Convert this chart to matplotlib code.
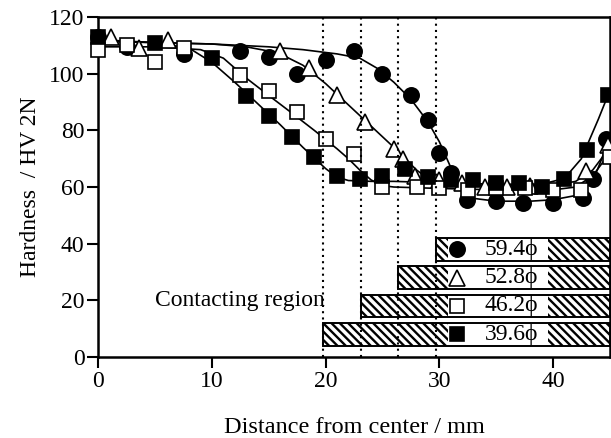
import matplotlib
matplotlib.use("Agg")
import matplotlib.pyplot as plt
from matplotlib.patches import Rectangle

plt.rcParams["font.family"] = ["Liberation Serif", "DejaVu Serif"]
plt.rcParams["hatch.linewidth"] = 1.7

# measured points ------------------------------------------------------------
c594_x = [0, 2.5, 7.5, 12.5, 15, 17.5, 20, 22.5, 25, 27.5, 29, 30, 31, 32.4, 35, 37.4, 40, 42.6, 43.5, 44.7]
c594_y = [113, 109.5, 107, 108, 106, 100, 105, 108, 100, 92.5, 83.5, 72, 65, 55.5, 55, 54.5, 54.5, 56, 63, 77]

t528_x = [1.1, 3.6, 6.1, 16, 18.5, 21, 23.5, 26, 26.8, 27.9, 30, 32, 34, 36, 38, 42.9, 44.8]
t528_y = [113, 109, 112, 108, 102, 92.5, 83, 73.5, 70, 64, 62.5, 61.3, 60, 60, 60.5, 65.5, 75]

s462_x = [0, 2.5, 5, 7.5, 12.5, 15, 17.5, 20, 22.5, 25, 28, 30, 32.5, 35, 37.5, 40, 42.5, 45]
s462_y = [108.5, 110, 104, 109, 99.5, 94, 86.5, 77, 71.5, 60, 60, 59.5, 59, 59.5, 59.5, 59, 59, 70.5]

f396_x = [0, 5, 10, 13, 15, 17, 19, 21, 23, 25, 27, 29, 31, 33, 35, 37, 39, 41, 43, 44.8]
f396_y = [113, 111, 105.5, 92, 85, 77.5, 70.5, 64, 63, 64, 66.5, 63.5, 62.5, 62.5, 61.5, 61.5, 60, 63, 73, 92.5]

# fitted curves --------------------------------------------------------------
c594_cx = [0, 5, 10, 15, 18, 21, 23, 24.5, 26, 27.5, 29, 30, 31, 32, 33, 35, 38, 40, 42, 43.5, 44.3, 45]
c594_cy = [111.5, 111, 110.5, 109.5, 108.5, 107, 105.5, 102, 97, 91, 83, 76, 67, 59, 56, 55, 55, 55.5, 57, 62, 70, 78]

t528_cx = [0, 5, 10, 13, 15, 16.5, 18, 20, 22, 24, 26, 27, 28, 29, 31, 35, 40, 42, 43.5, 45]
t528_cy = [111.5, 111, 110.5, 109.5, 108, 106, 103, 96.5, 89, 81.5, 74, 70, 66, 63, 61, 60.5, 60.5, 62, 66, 74]

s462_cx = [0, 5, 9, 11, 13, 15, 17, 19, 21, 22, 23, 24, 25, 26, 30, 35, 40, 42, 43.5, 45]
s462_cy = [109.5, 109.5, 108.5, 105.5, 98.5, 92.3, 86.2, 80, 73.5, 70, 66, 62.5, 60.5, 60, 59.5, 59, 59, 60, 64, 72]

f396_cx = [0, 5, 8, 10, 12, 14, 16, 18, 20, 21, 22, 24, 26, 30, 35, 39, 41, 42.5, 44, 45]
f396_cy = [112, 111, 109, 104, 97, 89.5, 82, 74, 66.5, 63.5, 62.3, 62, 62, 61.5, 61, 61, 63, 70, 84, 94]

diameters = [59.4, 52.8, 46.2, 39.6]
bar_y = [38, 28, 18, 8]
labels = ["59.4\u03d5", "52.8\u03d5", "46.2\u03d5", "39.6\u03d5"]

styles = [
    dict(marker="o", mfc="black", mec="black", ms=11),
    dict(marker="^", mfc="white", mec="black", ms=11),
    dict(marker="s", mfc="white", mec="black", ms=10),
    dict(marker="s", mfc="black", mec="black", ms=10),
]
series = [(c594_x, c594_y, c594_cx, c594_cy),
          (t528_x, t528_y, t528_cx, t528_cy),
          (s462_x, s462_y, s462_cx, s462_cy),
          (f396_x, f396_y, f396_cx, f396_cy)]

fig = plt.figure(figsize=(6.11, 4.38), dpi=100)
ax = fig.add_axes([0.161, 0.185, 0.837, 0.776])

for i, (px, py, cx, cy) in enumerate(series):
    ax.plot(cx, cy, color="black", lw=1.2, zorder=2)
    ax.plot(px, py, ls="none", mew=1.2, clip_on=False, zorder=3 + i, **styles[i])

# contacting-region bars
box_l, box_r = 30.8, 39.6
bh = 8
for d, yc, lab, st in zip(diameters, bar_y, labels, styles):
    left = d / 2
    y0 = yc - bh / 2
    ax.add_patch(Rectangle((left, y0), box_l - left, bh, facecolor="white",
                           edgecolor="black", hatch="\\\\\\\\", lw=0, zorder=8))
    ax.add_patch(Rectangle((box_r, y0), 45 - box_r, bh, facecolor="white",
                           edgecolor="black", hatch="\\\\\\\\", lw=0, zorder=8))
    ax.add_patch(Rectangle((left, y0), 45 - left, bh, facecolor="none",
                           edgecolor="black", lw=1.4, zorder=9))
    ax.plot([31.6], [yc], ls="none", mew=1.2, zorder=10, **st)
    ax.text(34.0, yc, lab, ha="left", va="center", fontsize=17, zorder=10)

for d in diameters:
    ax.axvline(d / 2, color="black", lw=1.5, ls=(0, (1, 2)), zorder=11)

ax.text(5.0, 20, "Contacting region", ha="left", va="center", fontsize=17, zorder=10)

ax.set_xlim(0, 45)
ax.set_ylim(0, 120)
ax.set_xticks([0, 10, 20, 30, 40])
ax.set_yticks([0, 20, 40, 60, 80, 100, 120])
ax.tick_params(direction="out", length=8, width=1.5, pad=2, labelsize=17)
for s in ax.spines.values():
    s.set_linewidth(1.8)
ax.set_xlabel("Distance from center / mm", fontsize=17.5, labelpad=18)
ax.set_ylabel("Hardness  / HV 2N", fontsize=17, labelpad=6)

fig.savefig("out.png", dpi=100)
